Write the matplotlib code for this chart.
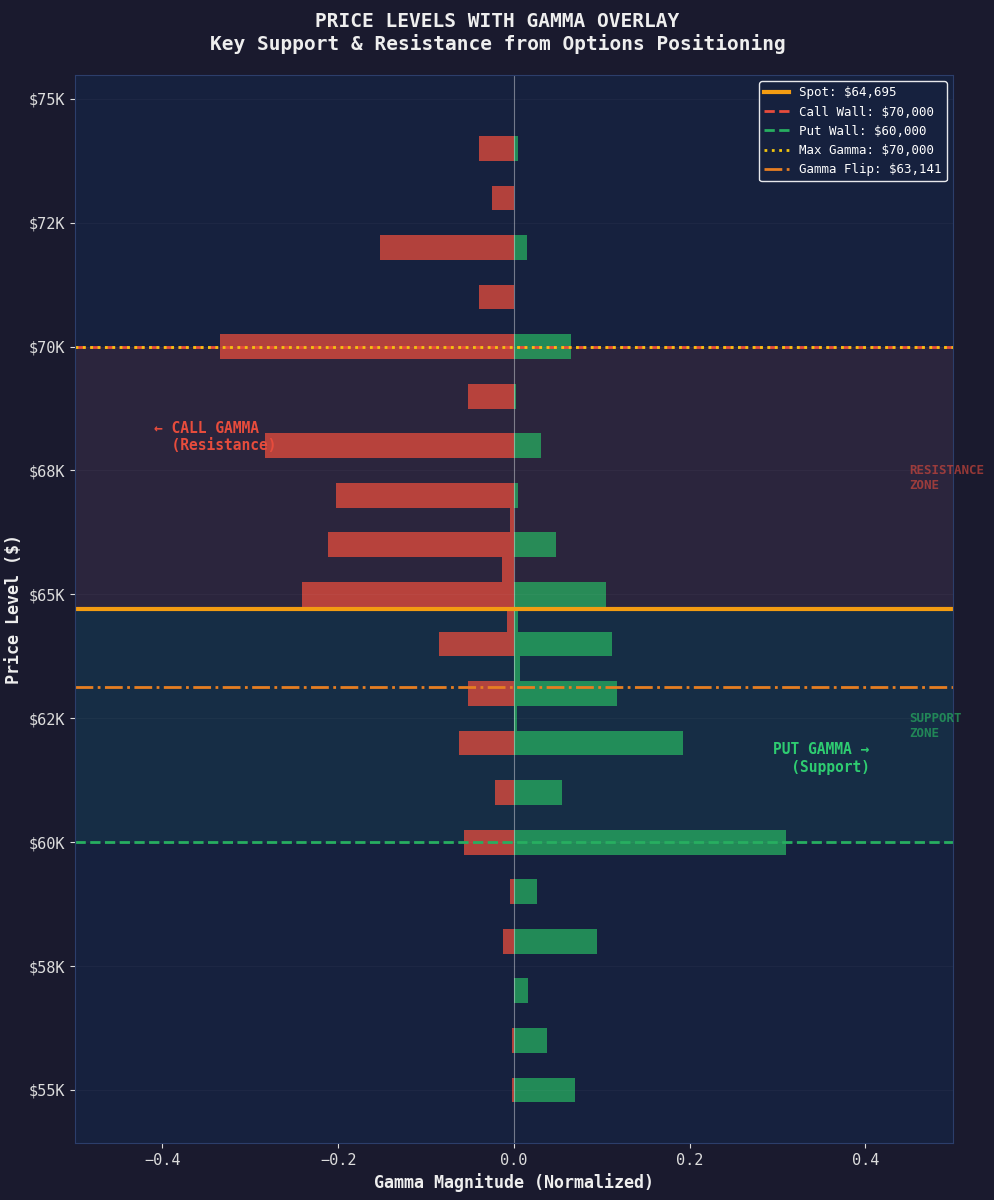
import matplotlib.pyplot as plt
from matplotlib.ticker import FuncFormatter

plt.rcParams['font.family'] = ['DejaVu Sans Mono']

strikes = [74000, 73000, 72000, 71000, 70000, 69000, 68000, 67000, 66000, 65000,
           64000, 63000, 62000, 61000, 60000, 59000, 58000, 57000, 56000, 55000,
           66500, 65500, 64500, 63500, 62500]
call_gamma = [-0.040, -0.025, -0.152, -0.040, -0.335, -0.052, -0.283, -0.202, -0.212, -0.241,
              -0.085, -0.052, -0.062, -0.022, -0.057, -0.005, -0.012, 0.0, -0.002, -0.002,
              -0.005, -0.013, -0.008, 0.0, 0.0]
put_gamma = [0.005, 0.0, 0.015, 0.0, 0.065, 0.002, 0.031, 0.005, 0.048, 0.105,
             0.112, 0.117, 0.192, 0.055, 0.310, 0.026, 0.095, 0.016, 0.038, 0.069,
             0.0, 0.0, 0.005, 0.007, 0.003]

spot = 64695
call_wall = 70000
put_wall = 60000
max_gamma = 70000
gamma_flip = 63141

bg = '#1a1a2e'
panel = '#16213e'

fig = plt.figure(figsize=(9.95, 12), dpi=100, facecolor=bg)
ax = fig.add_axes([0.075, 0.0475, 0.883, 0.89])
ax.set_facecolor(panel)

ax.axhspan(spot, call_wall, color='#e74c3c', alpha=0.1, lw=0)
ax.axhspan(put_wall, spot, color='#1abc9c', alpha=0.08, lw=0)

ax.barh(strikes, call_gamma, height=500, color='#e74c3c', alpha=0.75)
ax.barh(strikes, put_gamma, height=500, color='#27ae60', alpha=0.75)

ax.axvline(0, color='white', lw=0.8, alpha=0.4)
ax.axhline(spot, color='#f39c12', lw=3, label=f'Spot: ${spot:,}')
ax.axhline(call_wall, color='#e74c3c', lw=2, ls='--', label=f'Call Wall: ${call_wall:,}')
ax.axhline(put_wall, color='#27ae60', lw=2, ls='--', label=f'Put Wall: ${put_wall:,}')
ax.axhline(max_gamma, color='#f1c40f', lw=2, ls=':', label=f'Max Gamma: ${max_gamma:,}')
ax.axhline(gamma_flip, color='#e67e22', lw=2, ls='-.', label=f'Gamma Flip: ${gamma_flip:,}')

ax.set_xlim(-0.5, 0.5)
ax.set_ylim(53930, 75480)
ax.set_yticks([55000, 57500, 60000, 62500, 65000, 67500, 70000, 72500, 75000])
ax.yaxis.set_major_formatter(FuncFormatter(lambda v, p: '$%.0fK' % (v / 1000)))
ax.grid(axis='y', color='white', alpha=0.03)
ax.tick_params(colors='#dddddd', labelsize=11)
for s in ax.spines.values():
    s.set_color('#2c3e6b')

ax.set_xlabel('Gamma Magnitude (Normalized)', color='#eeeeee', fontsize=12, fontweight='bold')
ax.set_ylabel('Price Level ($)', color='#eeeeee', fontsize=12, fontweight='bold')
fig.suptitle('PRICE LEVELS WITH GAMMA OVERLAY\nKey Support & Resistance from Options Positioning',
             color='#eeeeee', fontsize=14, fontweight='bold', y=0.99)

ax.text(-0.41, 68170, '← CALL GAMMA\n  (Resistance)', color='#e74c3c', fontsize=10.5,
        fontweight='bold', va='center', ha='left')
ax.text(0.405, 61690, 'PUT GAMMA →\n   (Support)', color='#2ecc71', fontsize=10.5,
        fontweight='bold', va='center', ha='right')
ax.text(0.45, 67350, 'RESISTANCE\nZONE', color='#e74c3c', alpha=0.6, fontsize=9,
        fontweight='bold', va='center')
ax.text(0.45, 62350, 'SUPPORT\nZONE', color='#27ae60', alpha=0.7, fontsize=9,
        fontweight='bold', va='center')

leg = ax.legend(loc='upper right', fontsize=9, facecolor=panel, edgecolor='white',
                labelcolor='white', framealpha=0.9)

fig.savefig('out.png', dpi=100, facecolor=bg)
